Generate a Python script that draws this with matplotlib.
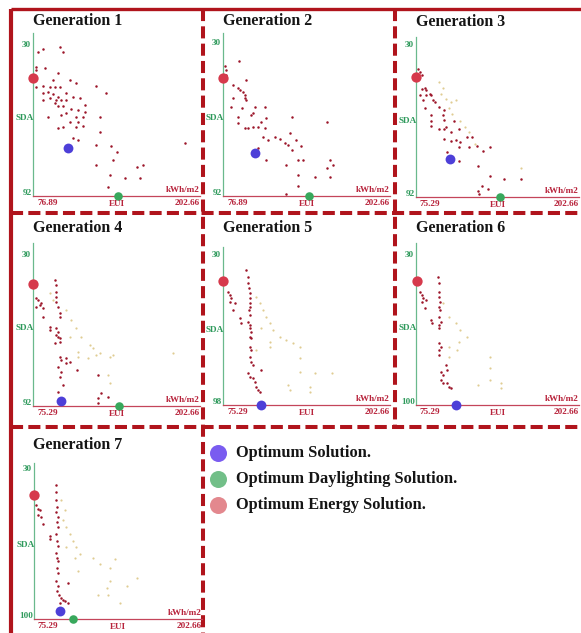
import matplotlib
matplotlib.use('Agg')
import matplotlib.pyplot as plt

plt.rcParams['font.family'] = ['Liberation Serif', 'DejaVu Serif']
plt.rcParams['font.weight'] = 'bold'

# ---------------- data ----------------
generations = ['Generation 1', 'Generation 2', 'Generation 3', 'Generation 4',
               'Generation 5', 'Generation 6', 'Generation 7']
eui_min = [76.89, 76.89, 75.29, 75.29, 75.29, 75.29, 75.29]
eui_max = 202.66
sda_min = 30
sda_max = [92, 92, 92, 92, 98, 100, 100]

opt_solution = [(103.3, 72.4), (100.8, 74.5), (101.9, 76.7), (96.9, 90.0),
                (104.1, 98.0), (106.2, 100.0), (94.8, 96.1)]
opt_daylight = [(141.0, 92.0), (141.8, 92.0), (141.0, 92.0), (141.0, 92.0),
                None, None, (105.0, 100.0)]
opt_energy = [(76.89, 43.7), (76.89, 44.0), (75.29, 43.0), (75.29, 41.9),
              (75.29, 41.6), (75.8, 42.1), (75.29, 42.1)]

gen1 = [(80.7, 32.7), (84.4, 31.8), (97.0, 30.7), (99.5, 32.7), (79.4, 38.9), (79.4, 40.3),
        (85.7, 39.6), (92.0, 44.4), (95.8, 41.6), (104.6, 44.4), (109.6, 45.7), (124.7, 46.8),
        (132.2, 49.6), (79.4, 47.4), (84.4, 46.8), (89.5, 47.4), (93.2, 47.4), (97.0, 47.4),
        (84.4, 49.9), (88.2, 49.2), (92.0, 50.1), (95.8, 51.2), (102.0, 49.6), (84.4, 52.6),
        (89.5, 51.9), (94.5, 52.6), (98.3, 52.6), (102.0, 52.6), (107.1, 51.2), (112.1, 51.9),
        (93.2, 54.0), (95.8, 55.1), (99.5, 55.1), (105.8, 56.4), (110.8, 56.7), (115.9, 57.4),
        (115.9, 54.6), (98.3, 58.7), (102.0, 58.1), (109.6, 59.4), (114.6, 59.4), (127.2, 59.4),
        (88.2, 59.4), (104.6, 61.5), (110.8, 61.5), (114.6, 63.3), (109.6, 63.5), (95.8, 64.2),
        (99.5, 63.5), (107.1, 68.3), (110.8, 69.0), (127.2, 65.6), (124.7, 71.1), (136.0, 71.3),
        (139.8, 73.8), (191.3, 70.4), (124.7, 79.3), (137.3, 77.2), (154.9, 80.0), (159.9, 79.3),
        (134.7, 83.4), (146.1, 84.8), (157.4, 84.8), (133.5, 88.2)]
gen1_prev = []

gen2 = [(89.0, 37.1), (78.1, 39.5), (79.4, 40.9), (79.4, 42.9), (84.4, 47.0), (88.2, 48.3),
        (89.5, 49.0), (92.0, 49.7), (93.2, 51.0), (93.2, 52.4), (94.5, 53.1), (94.5, 44.9),
        (84.4, 52.4), (82.7, 55.8), (91.5, 56.5), (100.8, 55.8), (108.3, 55.8), (98.3, 59.2),
        (99.5, 58.5), (109.6, 60.5), (105.8, 61.9), (103.3, 63.9), (108.3, 64.6), (88.2, 59.9),
        (88.2, 62.6), (93.2, 64.6), (95.8, 64.6), (99.5, 63.9), (128.5, 59.9), (154.9, 61.9),
        (127.2, 66.6), (107.1, 68.0), (110.8, 69.4), (115.9, 68.0), (119.6, 69.1), (123.4, 70.7),
        (125.9, 71.4), (132.2, 69.4), (136.0, 71.8), (128.5, 73.4), (103.3, 72.5), (109.6, 77.5),
        (124.7, 79.5), (133.5, 77.5), (137.3, 77.5), (157.4, 77.5), (159.9, 79.3), (154.9, 80.6),
        (157.4, 84.3), (133.5, 83.3), (146.1, 84.3), (133.0, 88.1), (124.7, 91.1)]
gen2_prev = []

gen3 = [(77.1, 39.6), (78.3, 41.0), (79.6, 42.3), (79.6, 47.8), (82.1, 47.4), (83.4, 48.5),
        (85.9, 49.9), (87.2, 50.5), (83.4, 50.5), (78.3, 50.5), (80.9, 52.6), (82.1, 55.6),
        (88.5, 52.6), (89.8, 53.3), (93.6, 55.3), (97.4, 56.7), (96.1, 58.7), (97.4, 60.4),
        (87.2, 58.7), (87.2, 60.8), (87.2, 62.9), (93.6, 64.2), (97.4, 64.2), (99.1, 63.3),
        (102.4, 65.6), (105.0, 60.8), (108.8, 64.2), (97.4, 68.3), (102.4, 69.0), (106.2, 68.7),
        (108.8, 71.8), (110.0, 69.7), (115.1, 67.6), (118.9, 67.6), (116.4, 71.8), (122.7, 71.1),
        (127.8, 73.1), (132.9, 71.8), (99.9, 73.8), (108.8, 77.2), (124.0, 79.3), (132.9, 83.4),
        (144.3, 84.8), (157.0, 84.8), (126.5, 87.5), (131.6, 88.6), (124.0, 89.6), (124.5, 90.9)]
gen3_prev = [(93.6, 45.1), (94.8, 49.9), (98.6, 51.9), (101.2, 55.6), (103.7, 58.1), (110.0, 60.8),
             (113.9, 63.5), (106.2, 52.6), (102.4, 53.3), (96.1, 47.4), (116.4, 65.6), (121.5, 70.4),
             (157.0, 80.0)]

gen4 = [(77.8, 47.8), (79.1, 48.5), (80.4, 50.5), (82.9, 51.9), (77.8, 51.2), (81.7, 49.9),
        (82.9, 55.3), (91.8, 40.3), (93.1, 42.3), (93.1, 45.1), (93.1, 47.1), (93.1, 49.2),
        (94.4, 51.2), (95.7, 54.0), (95.7, 55.3), (88.0, 59.4), (88.0, 60.8), (93.1, 60.1),
        (94.4, 61.5), (93.1, 62.9), (94.4, 63.5), (95.7, 64.2), (91.8, 66.3), (95.7, 65.6),
        (95.7, 71.8), (96.9, 73.1), (100.8, 72.4), (100.8, 74.5), (103.3, 73.8), (94.4, 75.9),
        (96.9, 77.9), (95.7, 80.0), (98.2, 83.4), (94.4, 86.1), (108.9, 77.2), (125.0, 79.3),
        (127.5, 86.8), (125.0, 88.9), (125.0, 90.9), (132.6, 88.2)]
gen4_prev = [(88.0, 45.7), (90.6, 48.5), (100.8, 52.6), (104.6, 56.7), (108.4, 60.1), (103.3, 63.5),
             (112.2, 63.5), (118.6, 67.0), (121.1, 68.3), (126.2, 70.4), (133.9, 71.8), (136.4, 71.1),
             (109.7, 69.7), (109.7, 71.8), (117.3, 72.4), (123.7, 71.1), (133.9, 82.7), (182.3, 70.4),
             (132.6, 79.3)]

gen5 = [(79.1, 46.6), (80.4, 48.1), (81.7, 49.6), (82.9, 54.9), (80.4, 51.2), (84.2, 51.9),
        (93.1, 36.8), (94.4, 39.8), (94.4, 42.8), (95.2, 45.1), (95.7, 47.4), (95.7, 49.6),
        (95.7, 51.9), (95.7, 53.4), (95.2, 54.9), (96.2, 57.2), (88.0, 58.7), (89.3, 61.0),
        (94.4, 60.2), (95.7, 61.7), (95.7, 63.2), (96.9, 64.8), (95.7, 67.0), (96.9, 67.8),
        (95.7, 71.6), (96.9, 73.1), (95.7, 76.1), (96.9, 78.4), (98.2, 79.9), (94.4, 83.6),
        (95.7, 85.2), (98.2, 85.9), (99.5, 87.4), (100.8, 89.7), (102.0, 91.2), (103.3, 92.0),
        (104.6, 82.1)]
gen5_prev = [(100.8, 48.9), (103.3, 51.9), (105.9, 54.9), (108.4, 58.0), (111.0, 61.0), (113.5, 64.0),
             (118.6, 67.0), (123.7, 68.5), (128.8, 70.0), (133.9, 71.6), (104.6, 63.2), (111.0, 69.3),
             (111.0, 71.6), (133.9, 76.8), (133.9, 82.9), (145.3, 83.6), (158.1, 83.6), (125.0, 88.9),
             (126.2, 91.2), (141.5, 89.7), (141.5, 92.0), (100.8, 73.1)]

gen6 = [(78.3, 47.1), (79.6, 48.7), (80.9, 50.2), (83.4, 51.0), (79.6, 51.8), (82.1, 54.9),
        (92.3, 40.1), (93.1, 43.2), (93.6, 47.1), (93.6, 49.5), (94.1, 51.8), (93.6, 54.1),
        (94.1, 55.7), (93.6, 58.8), (94.8, 61.1), (93.6, 62.7), (93.6, 64.2), (87.2, 60.3),
        (88.0, 61.9), (93.6, 71.2), (94.8, 72.8), (93.6, 74.3), (93.6, 76.7), (98.6, 81.3),
        (99.9, 83.7), (94.8, 84.5), (96.1, 86.0), (94.8, 88.3), (96.1, 89.9), (99.9, 89.9),
        (101.2, 91.5), (102.4, 92.2)]
gen6_prev = [(96.1, 52.6), (101.2, 58.8), (106.2, 61.9), (110.0, 65.0), (115.1, 68.1), (101.2, 72.8),
             (108.8, 70.5), (107.5, 74.3), (132.9, 77.5), (132.9, 82.9), (132.9, 88.4), (124.0, 90.7),
             (141.8, 89.9), (141.8, 92.2), (101.2, 77.5)]

gen7 = [(77.1, 46.9), (78.3, 48.5), (79.6, 49.2), (80.9, 52.4), (82.1, 55.5), (78.3, 51.6),
        (92.3, 37.4), (92.3, 40.6), (92.3, 44.5), (92.8, 47.7), (92.3, 50.0), (93.6, 52.4),
        (92.8, 54.8), (93.6, 57.1), (92.3, 60.3), (87.2, 61.1), (87.2, 62.6), (92.8, 63.4),
        (93.6, 65.8), (92.3, 69.0), (92.8, 71.3), (93.6, 72.9), (92.8, 76.0), (93.6, 78.4),
        (92.3, 82.4), (93.6, 84.7), (92.8, 87.1), (94.3, 88.7), (96.1, 90.2), (98.6, 91.8),
        (101.2, 92.6), (94.8, 92.6), (97.4, 91.0), (101.2, 83.1)]
gen7_prev = [(96.1, 44.5), (98.6, 49.2), (97.4, 54.0), (99.9, 57.1), (102.4, 60.3), (105.0, 63.4),
             (107.5, 66.6), (110.0, 69.7), (99.9, 66.6), (106.2, 71.3), (108.8, 77.6), (120.2, 71.3),
             (125.3, 74.5), (132.9, 76.0), (136.7, 72.1), (132.9, 82.4), (130.4, 85.5), (124.0, 88.7),
             (131.6, 88.7), (140.5, 92.6), (145.6, 84.7), (153.2, 80.8)]

current_points = [gen1, gen2, gen3, gen4, gen5, gen6, gen7]
previous_points = [gen1_prev, gen2_prev, gen3_prev, gen4_prev, gen5_prev, gen6_prev, gen7_prev]

legend_labels = ['Optimum Solution.', 'Optimum Daylighting Solution.', 'Optimum Energy Solution.']

# ---------------- layout (pixels) ----------------
W, H = 581, 633
fig = plt.figure(figsize=(W / 100, H / 100), dpi=100)

# left, right, top, bottom, y-pixel of the "30" level
boxes = [(33, 200, 33, 196, 45), (223, 390, 33, 196, 43), (416, 579, 37, 197, 45),
         (33, 200, 243, 406, 255), (223, 390, 247, 405, 255), (416, 579, 243, 405, 255),
         (34, 202, 463, 619, 469)]
title_pos = [(33, 21), (223, 21), (416, 22), (33, 228), (223, 228), (416, 228), (33, 445)]

BORDER = '#b0141c'
GREEN_T = '#2f9a5c'
RED_T = '#b8243c'
GREEN_L = '#6ab98d'
RED_L = '#c4455a'
DOT = '#9c1529'
PREV = '#e0cc92'
C_SOL = '#4d3fd8'
C_DAY = '#38a85c'
C_EN = '#d63a4c'


def fx(px):
    return px / W


def fy(py):
    return 1 - py / H


# border overlay
bg = fig.add_axes([0, 0, 1, 1])
bg.set_xlim(0, W)
bg.set_ylim(H, 0)
bg.axis('off')
dash = (0, (3, 1.3))
bg.plot([11, W], [9, 9], color=BORDER, lw=2.4, solid_capstyle='butt')
bg.plot([11, 11], [9, H], color=BORDER, lw=3.0, solid_capstyle='butt')
bg.plot([203, 203], [9, H], color=BORDER, lw=2.9, linestyle=dash)
bg.plot([395, 395], [9, 427], color=BORDER, lw=2.9, linestyle=dash)
bg.plot([11, W], [213, 213], color=BORDER, lw=2.9, linestyle=dash)
bg.plot([11, W], [427, 427], color=BORDER, lw=2.9, linestyle=dash)

lab_fs = 6.6
for i, (l, r, t, b, y30) in enumerate(boxes):
    ax = fig.add_axes([fx(l), fy(b), fx(r - l), (b - t) / H])
    ymax = sda_max[i]
    ytop = sda_min - (y30 - t) * (ymax - sda_min) / (b - y30)
    ax.set_xlim(eui_min[i], eui_max)
    ax.set_ylim(ymax, ytop)
    ax.patch.set_alpha(0)
    for s in ['top', 'right']:
        ax.spines[s].set_visible(False)
    ax.spines['left'].set_color(GREEN_L)
    ax.spines['left'].set_linewidth(0.9)
    ax.spines['bottom'].set_color(RED_L)
    ax.spines['bottom'].set_linewidth(0.9)
    ax.set_xticks([])
    ax.set_yticks([])

    prev = previous_points[i]
    if prev:
        ax.scatter([p[0] for p in prev], [p[1] for p in prev], s=2.5, color=PREV,
                   linewidths=0, zorder=2, clip_on=False)
    cur = current_points[i]
    ax.scatter([p[0] for p in cur], [p[1] for p in cur], s=3.2, color=DOT,
               linewidths=0, zorder=3, clip_on=False)
    ax.scatter([opt_energy[i][0]], [opt_energy[i][1]], s=55, color=C_EN,
               linewidths=0, zorder=5, clip_on=False)
    ax.scatter([opt_solution[i][0]], [opt_solution[i][1]], s=50, color=C_SOL,
               linewidths=0, zorder=5, clip_on=False)
    if opt_daylight[i] is not None:
        ax.scatter([opt_daylight[i][0]], [opt_daylight[i][1]], s=38, color=C_DAY,
                   linewidths=0, zorder=5, clip_on=False)

    # texts
    tx, ty = title_pos[i]
    fig.text(fx(tx), fy(ty), generations[i], fontsize=11.5, fontweight='bold',
             ha='left', va='center', color='#151515')
    fig.text(fx(l - 2), fy(y30), str(sda_min), fontsize=lab_fs, color=GREEN_T,
             ha='right', va='center', fontweight='bold')
    fig.text(fx(l - 1), fy(b - 3), str(ymax), fontsize=lab_fs, color=GREEN_T,
             ha='right', va='center', fontweight='bold')
    fig.text(fx(l + 1), fy((t + b) / 2 + 4), 'SDA', fontsize=lab_fs, color=GREEN_T,
             ha='right', va='center', fontweight='bold')
    fig.text(fx(l + 4), fy(b + 7), f'{eui_min[i]:.2f}', fontsize=lab_fs, color=RED_T,
             ha='left', va='center', fontweight='bold')
    fig.text(fx((l + r) / 2), fy(b + 8), 'EUI', fontsize=lab_fs, color=RED_T,
             ha='center', va='center', fontweight='bold')
    fig.text(fx(r), fy(b + 7), f'{eui_max:.2f}', fontsize=lab_fs, color=RED_T,
             ha='right', va='center', fontweight='bold')
    fig.text(fx(r), fy(b - 6), 'kWh/m2', fontsize=lab_fs, color=RED_T,
             ha='right', va='center', fontweight='bold')

# legend
leg_colors = ['#7a5cf0', '#72bf88', '#e3888e']
leg_y = [453, 479, 505]
for c, yy, lab in zip(leg_colors, leg_y, legend_labels):
    bg.scatter([218], [yy], s=150, color=c, linewidths=0, zorder=5)
    bg.text(236, yy, lab, fontsize=11.8, fontweight='bold', ha='left', va='center',
            color='#151515')

fig.savefig('out.png', dpi=100)
